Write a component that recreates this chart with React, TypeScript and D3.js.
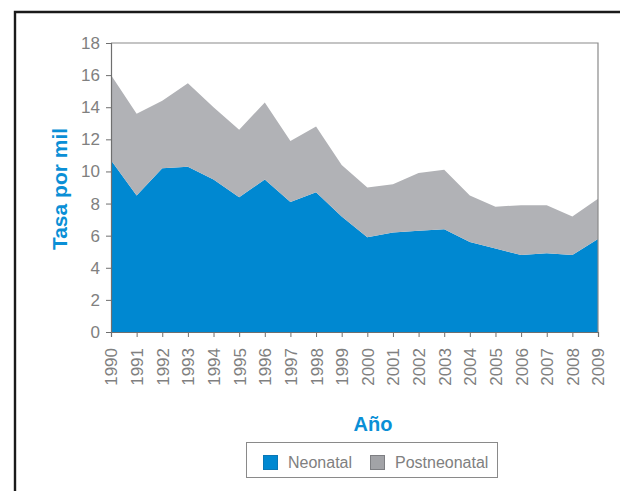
import React, { useRef, useEffect } from 'react';
import * as d3 from 'd3';

// data
const years = ['1990', '1991', '1992', '1993', '1994', '1995', '1996', '1997', '1998', '1999',
  '2000', '2001', '2002', '2003', '2004', '2005', '2006', '2007', '2008', '2009'];
const neonatal = [10.7, 8.5, 10.2, 10.3, 9.5, 8.4, 9.5, 8.1, 8.7, 7.2, 5.9, 6.2, 6.3, 6.4, 5.6, 5.2, 4.8, 4.9, 4.8, 5.8];
const postneonatal = [5.3, 5.1, 4.2, 5.2, 4.5, 4.2, 4.8, 3.8, 4.1, 3.2, 3.1, 3.0, 3.6, 3.7, 2.9, 2.6, 3.1, 3.0, 2.4, 2.5];
const seriesNames = ['Neonatal', 'Postneonatal'];
const yTicks = [0, 2, 4, 6, 8, 10, 12, 14, 16, 18];

// constants
const width = 620;
const height = 491;
const margin = { top: 43, right: 22, bottom: 159, left: 111 };
const innerWidth = width - margin.left - margin.right;
const innerHeight = height - margin.top - margin.bottom;
const colours = ['#0088d1', '#b1b2b6'];
const axisColour = '#6f6f6f';
const labelColour = '#808080';
const blue = '#0a8fd6';
const font = '"Liberation Sans", Arial, sans-serif';

const App = () => {
  const gRef = useRef<SVGGElement>(null);

  const xScale = d3.scalePoint<string>().domain(years).range([0, innerWidth]);
  const yScale = d3.scaleLinear().domain([0, 18]).range([innerHeight, 0]);

  useEffect(() => {
    const g = d3.select(gRef.current);
    g.selectAll('*').remove();

    const table = years.map((y, i) => ({ year: y, Neonatal: neonatal[i], Postneonatal: postneonatal[i] }));
    const stacked = d3.stack<any>().keys(seriesNames)(table);

    const area = d3.area<any>()
      .x(d => xScale(d.data.year) as number)
      .y0(d => yScale(d[0]))
      .y1(d => yScale(d[1]));

    g.selectAll('.layer')
      .data(stacked)
      .join('path')
      .attr('class', 'layer')
      .attr('d', area)
      .attr('fill', (d, i) => colours[i]);

    // frame top + right
    g.append('path')
      .attr('d', `M0,0H${innerWidth}V${innerHeight}`)
      .attr('fill', 'none')
      .attr('stroke', '#8a8a8a')
      .attr('stroke-width', 1.2);

    // y axis
    const yAxis = g.append('g')
      .call(d3.axisLeft(yScale).tickValues(yTicks).tickSize(5).tickPadding(6).tickFormat(d3.format('d')));
    yAxis.select('.domain').attr('stroke', axisColour).attr('stroke-width', 1.2);
    yAxis.selectAll('.tick line').attr('stroke', axisColour);
    yAxis.selectAll('.tick text')
      .attr('fill', labelColour)
      .style('font-family', font)
      .style('font-size', '17px');

    // x axis
    const xAxis = g.append('g')
      .attr('transform', `translate(0,${innerHeight})`)
      .call(d3.axisBottom(xScale).tickSize(5).tickPadding(0));
    xAxis.select('.domain').attr('stroke', axisColour).attr('stroke-width', 1.2);
    xAxis.selectAll('.tick line').attr('stroke', axisColour);
    xAxis.selectAll('.tick text')
      .attr('fill', labelColour)
      .attr('transform', 'rotate(-90)')
      .attr('text-anchor', 'end')
      .attr('x', -16)
      .attr('y', 0)
      .attr('dy', '0.35em')
      .style('font-family', font)
      .style('font-size', '17px');
  }, []);

  return (
    <svg width={width} height={height} style={{ position: 'absolute', left: 0, top: 0 }}>
      <rect x={0} y={0} width={width} height={height} fill="#fff" />
      {/* outer frame */}
      <path d={`M15,${height}V12H${width}`} fill="none" stroke="#1a1a1a" strokeWidth={2.4} />
      <g transform={`translate(${margin.left},${margin.top})`} ref={gRef}></g>
      <text transform="translate(67,189) rotate(-90)" textAnchor="middle" fill={blue}
        style={{ fontFamily: font, fontSize: 21, fontWeight: 'bold' }}>Tasa por mil</text>
      <text x={373} y={431} textAnchor="middle" fill={blue}
        style={{ fontFamily: font, fontSize: 20, fontWeight: 'bold' }}>Año</text>
      {/* legend */}
      <rect x={246.5} y={442.5} width={251} height={35} fill="#fff" stroke="#8a8a8a" strokeWidth={1} />
      {seriesNames.map((name, i) => (
        <g key={name} transform={`translate(${i === 0 ? 263 : 370},455)`}>
          <rect x={0.5} y={0.5} width={14} height={14} fill={i === 0 ? colours[0] : '#a2a3a7'}
            stroke={i === 0 ? '#0a77b5' : '#7d7e82'} strokeWidth={1} />
          <text x={25} y={13} fill={labelColour} style={{ fontFamily: font, fontSize: 16 }}>{name}</text>
        </g>
      ))}
    </svg>
  );
};

export default App;
